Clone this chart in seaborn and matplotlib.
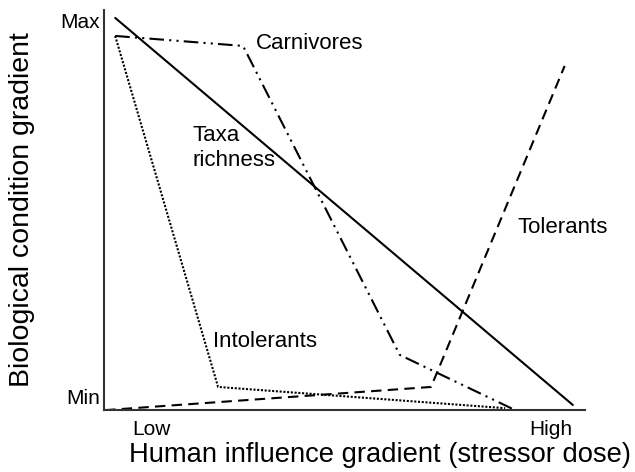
import matplotlib
matplotlib.use("Agg")
import matplotlib.pyplot as plt
import seaborn as sns
import pandas as pd

sns.set_theme(style="white")
plt.rcParams['font.family'] = ['Liberation Sans', 'DejaVu Sans']
plt.rcParams['text.color'] = 'black'
plt.rcParams['axes.labelcolor'] = 'black'
plt.rcParams['xtick.color'] = 'black'
plt.rcParams['ytick.color'] = 'black'

# Data (x: human influence 0-100, y: biological condition 0-100)
taxa_x = [2.3, 97.5]
taxa_y = [98, 1.3]
carn_x = [2.3, 28.9, 61.5, 85.0]
carn_y = [93.5, 91.0, 13.8, 0.3]
intol_x = [2.3, 23.7, 83.4]
intol_y = [93.5, 5.8, 0.5]
tol_x = [0.2, 68.0, 95.8]
tol_y = [0.0, 5.8, 86.0]

x_tick_pos = [9.8, 93.0]
x_tick_labels = ["Low", "High"]
y_tick_pos = [3.3, 97.3]
y_tick_labels = ["Min", "Max"]

fig = plt.figure(figsize=(6.35, 4.72), dpi=100)
ax = fig.add_axes([0.164, 0.131, 0.757, 0.848])

series = [
    ("Taxa richness", taxa_x, taxa_y, "-"),
    ("Carnivores", carn_x, carn_y, (0, (7, 2.5, 1, 2.5, 1, 2.5))),
    ("Intolerants", intol_x, intol_y, (0, (1, 0.8))),
    ("Tolerants", tol_x, tol_y, (0, (5, 3))),
]
for name, xs, ys, ls in series:
    df = pd.DataFrame({"x": xs, "y": ys})
    sns.lineplot(data=df, x="x", y="y", ax=ax, color="black", linewidth=1.5,
                 linestyle=ls, sort=False, estimator=None)

ax.set_xlim(0, 100)
ax.set_ylim(0, 100)
ax.set_xticks(x_tick_pos)
ax.set_xticklabels(x_tick_labels, fontsize=15)
ax.set_yticks(y_tick_pos)
ax.set_yticklabels(y_tick_labels, fontsize=15)
ax.tick_params(axis="x", length=0, pad=7)
ax.tick_params(axis="y", length=0, pad=3)
for s in ["top", "right"]:
    ax.spines[s].set_visible(False)
for s in ["left", "bottom"]:
    ax.spines[s].set_color("#333333")
    ax.spines[s].set_linewidth(1.5)

ax.set_xlabel("Human influence gradient (stressor dose)", fontsize=19.7)
ax.set_ylabel("Biological condition gradient", fontsize=20.5)
ax.xaxis.set_label_coords(0.574, -0.113)
ax.xaxis.label.set_va("center")
ax.yaxis.set_label_coords(-0.171, 0.5)
ax.yaxis.label.set_va("center")

ax.text(31.6, 91.7, "Carnivores", fontsize=16, ha="left", va="center")
ax.text(18.3, 65.5, "Taxa\nrichness", fontsize=16, ha="left", va="center", linespacing=1.25)
ax.text(86, 45.7, "Tolerants", fontsize=16, ha="left", va="center")
ax.text(22.7, 17.1, "Intolerants", fontsize=16, ha="left", va="center")

fig.savefig("out.png", dpi=100)
